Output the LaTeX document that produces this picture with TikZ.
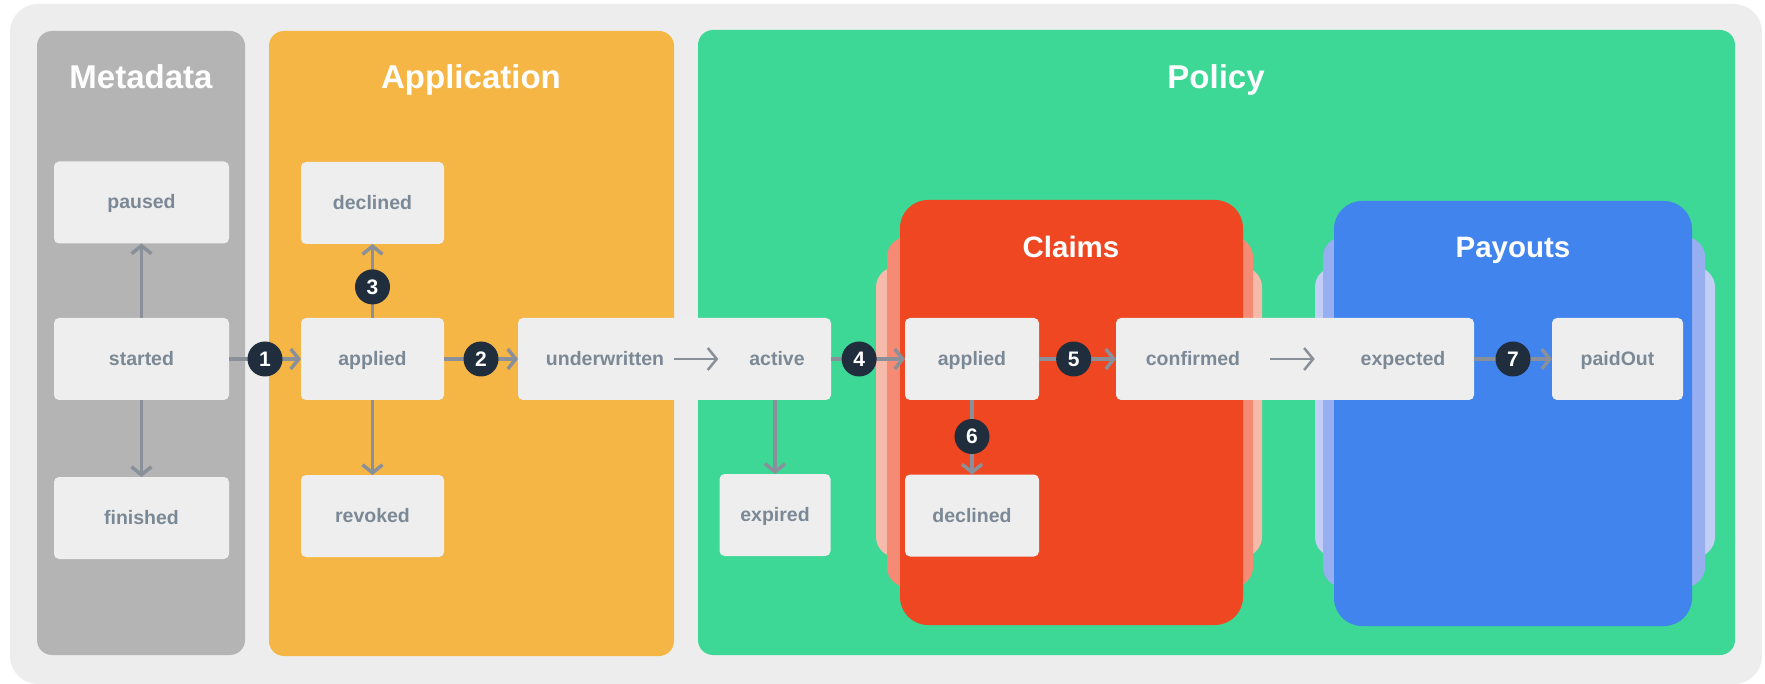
\documentclass[tikz,border=0pt]{standalone}
\usepackage{fontspec}
\setmainfont{Liberation Sans}
\usepackage{xcolor}
\usetikzlibrary{arrows.meta}
\definecolor{frame}{HTML}{EDEDED}
\definecolor{meta}{HTML}{B4B4B4}
\definecolor{appl}{HTML}{F5B645}
\definecolor{policy}{HTML}{3DD796}
\definecolor{claims}{HTML}{EE4721}
\definecolor{claimsmid}{HTML}{F58B74}
\definecolor{claimsout}{HTML}{F6BAAA}
\definecolor{payouts}{HTML}{4184EE}
\definecolor{payoutsmid}{HTML}{97AFF1}
\definecolor{payoutsout}{HTML}{C2CEF5}
\definecolor{boxfill}{HTML}{EEEEEE}
\definecolor{label}{HTML}{7B8895}
\definecolor{wire}{HTML}{8A909A}
\definecolor{badge}{HTML}{1F2D3D}

\begin{document}
\begin{tikzpicture}[x=1pt,y=-1pt,
  state/.style={fill=boxfill, rounded corners=5pt, inner sep=0pt, outer sep=0pt,
    minimum height=82pt, text=label, text height=18pt, text depth=5pt,
    font=\fontsize{19.5}{22}\selectfont\bfseries},
  lbl/.style={inner sep=0pt, outer sep=0pt, text=label, text height=18pt, text depth=5pt,
    font=\fontsize{19.5}{22}\selectfont\bfseries},
  title/.style={anchor=base, text=white, font=\fontsize{33}{36}\selectfont\bfseries},
  subtitle/.style={anchor=base, text=white, font=\fontsize{29.5}{32}\selectfont\bfseries},
  flow/.style={draw=wire, line width=3.5pt, -{Straight Barb[length=8pt,width=20pt,line width=3.5pt]}},
  thin/.style={draw=wire, line width=2.5pt, -{Straight Barb[length=9pt,width=22pt,line width=2.5pt]}},
  num/.style={circle, fill=badge, text=white, inner sep=0pt, minimum size=35pt,
    font=\fontsize{21}{21}\selectfont\bfseries}]
\useasboundingbox (0,0) rectangle (1765,684);
\fill[white] (0,0) rectangle (1765,684);
\fill[frame, rounded corners=28pt] (10,4) rectangle (1762,684);

% panels
\fill[meta, rounded corners=15pt] (37,31) rectangle (245,655);
\fill[appl, rounded corners=15pt] (269,31) rectangle (674,656);
\fill[policy, rounded corners=15pt] (698,30) rectangle (1735,655);
\fill[claimsout, rounded corners=20pt] (876,267) rectangle (1262,557);
\fill[claimsmid, rounded corners=20pt] (887,237) rectangle (1253,587);
\fill[claims, rounded corners=28pt] (900,200) rectangle (1243,625);
\fill[payoutsout, rounded corners=20pt] (1315,267) rectangle (1715,557);
\fill[payoutsmid, rounded corners=20pt] (1323,237) rectangle (1705,587);
\fill[payouts, rounded corners=28pt] (1334,201) rectangle (1692,626);

\node[title] (tmeta) at (141,89) {Metadata};
\node[title] (tappl) at (471,89) {Application};
\node[title] (tpol) at (1216,89) {Policy};
\node[subtitle] (tclaims) at (1071,258) {Claims};
\node[subtitle] (tpay) at (1513,258) {Payouts};

% states
\node[state, minimum width=175pt] (paused) at (141.5,202.5) {paused};
\node[state, minimum width=175pt] (started) at (141.5,359) {started};
\node[state, minimum width=175pt] (finished) at (141.5,518) {finished};
\node[state, minimum width=143pt] (declined) at (372.5,203) {declined};
\node[state, minimum width=143pt] (applied) at (372.5,359) {applied};
\node[state, minimum width=143pt] (revoked) at (372.5,516) {revoked};
\node[state, minimum width=313pt] (uwact) at (674.5,359) {};
\node[lbl] (uw) at (605,359) {underwritten};
\node[lbl] (act) at (777,359) {active};
\node[state, minimum width=111pt] (expired) at (775,515) {expired};
\node[state, minimum width=134pt] (capplied) at (972,359) {applied};
\node[state, minimum width=134pt] (cdeclined) at (972,515.5) {declined};
\node[state, minimum width=358pt] (cfexp) at (1295,359) {};
\node[lbl] (cf) at (1193,359) {confirmed};
\node[lbl] (exp) at (1403,359) {expected};
\node[state, minimum width=131pt] (paidout) at (1617.5,359) {paidOut};

% transitions
\draw[flow] (started) -- (paused);
\draw[flow] (started) -- (finished);
\draw[flow] (started) -- node[num, pos=.5] {1} (applied);
\draw[flow] (applied) -- node[num, pos=.5] {2} (uwact);
\draw[flow] (applied) -- node[num, pos=.42] {3} (declined);
\draw[flow] (applied) -- (revoked);
\draw[thin, shorten <=10pt, shorten >=31pt] (uw.east) -- (act.west);
\draw[flow] (expired |- uwact.south) -- (expired);
\draw[flow] (uwact.east) -- node[num, pos=.38] {4} (capplied.west);
\draw[flow] (capplied) -- node[num, pos=.45] {5} (cfexp.west);
\draw[flow] (capplied) -- node[num, pos=.49] {6} (cdeclined);
\draw[thin, shorten <=30pt, shorten >=46pt] (cf.east) -- (exp.west);
\draw[flow] (cfexp.east) -- node[num, pos=.5] {7} (paidout.west);
\end{tikzpicture}
\end{document}
